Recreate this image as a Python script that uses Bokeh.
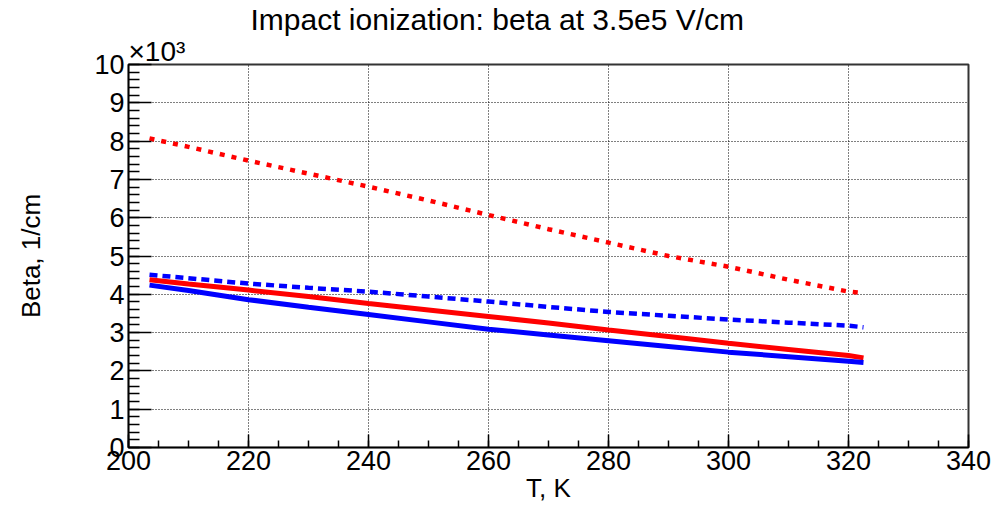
from bokeh.plotting import figure
from bokeh.models import FixedTicker, Range1d, Title
from bokeh.embed import file_html
from bokeh.resources import INLINE

# Temperature, K
T = [203.5, 210, 220, 230, 240, 250, 260, 270, 280, 290, 300, 310, 320, 322.5]
# Beta, in units of 1e3 1/cm
red_dotted = [8.07, 7.85, 7.49, 7.15, 6.81, 6.45, 6.07, 5.70, 5.35, 5.00, 4.72, 4.38, 4.07, 4.03]
blue_dashed = [4.51, 4.42, 4.28, 4.17, 4.07, 3.94, 3.81, 3.67, 3.54, 3.44, 3.34, 3.26, 3.18, 3.14]
red_solid = [4.38, 4.27, 4.11, 3.94, 3.76, 3.59, 3.42, 3.25, 3.07, 2.90, 2.72, 2.56, 2.40, 2.34]
blue_solid = [4.24, 4.10, 3.86, 3.66, 3.47, 3.28, 3.09, 2.94, 2.79, 2.64, 2.49, 2.37, 2.25, 2.22]

x_major = [200, 220, 240, 260, 280, 300, 320, 340]
x_minor = list(range(200, 345, 5))
y_major = list(range(0, 11))
y_minor = [i / 5 for i in range(0, 51)]

FONT = "Liberation Sans"

p = figure(width=1000, height=510, output_backend="svg", toolbar_location=None,
           x_range=Range1d(200, 340), y_range=Range1d(0, 10),
           min_border_left=128, min_border_right=32, min_border_top=64, min_border_bottom=63)

p.title.text = "Impact ionization: beta at 3.5e5 V/cm"
p.title.text_font = FONT
p.title.text_font_size = "30px"
p.title.text_font_style = "normal"
p.title.align = "left"
p.title.offset = 122
p.title.text_color = "black"
p.title.standoff = 0

# exponent marker next to the y axis top
exp_title = Title(text="×10³", text_font=FONT, text_font_size="28px",
                  text_font_style="normal", align="left", offset=0,
                  text_color="black", standoff=-4)
p.add_layout(exp_title, "above")

p.line(T, red_dotted, color="#ff0000", line_width=4.5, line_dash="5 7")
p.line(T, blue_dashed, color="#0000ff", line_width=4.5, line_dash="8 5")
p.line(T, red_solid, color="#ff0000", line_width=5)
p.line(T, blue_solid, color="#0000ff", line_width=5)

p.xaxis.ticker = FixedTicker(ticks=x_major, minor_ticks=x_minor)
p.yaxis.ticker = FixedTicker(ticks=y_major, minor_ticks=y_minor)

for ax in (p.xaxis[0], p.yaxis[0]):
    ax.major_tick_out = 0
    ax.minor_tick_out = 0
    ax.axis_line_color = "black"
    ax.axis_line_width = 1.5
    ax.major_tick_line_color = "black"
    ax.minor_tick_line_color = "black"
    ax.major_tick_line_width = 1.5
    ax.minor_tick_line_width = 1.5
    ax.major_label_text_font = FONT
    ax.major_label_text_font_size = "27px"
    ax.major_label_text_color = "black"
    ax.axis_label_text_font = FONT
    ax.axis_label_text_font_size = "26px"
    ax.axis_label_text_font_style = "normal"
    ax.axis_label_text_color = "black"

p.xaxis.major_tick_in = 13
p.xaxis.minor_tick_in = 7
p.yaxis.major_tick_in = 23
p.yaxis.minor_tick_in = 11
p.xaxis.major_label_standoff = 3
p.yaxis.major_label_standoff = 4
p.xaxis.axis_label = "T, K"
p.yaxis.axis_label = "Beta, 1/cm"
p.xaxis.axis_label_standoff = 0
p.yaxis.axis_label_standoff = 45

p.grid.grid_line_color = "black"
p.grid.grid_line_dash = "1 2"
p.grid.grid_line_width = 1
p.grid.grid_line_alpha = 1.0

p.outline_line_color = "#333333"
p.outline_line_width = 2
p.outline_line_alpha = 1.0

open("out.html", "w").write(file_html(p, INLINE))
